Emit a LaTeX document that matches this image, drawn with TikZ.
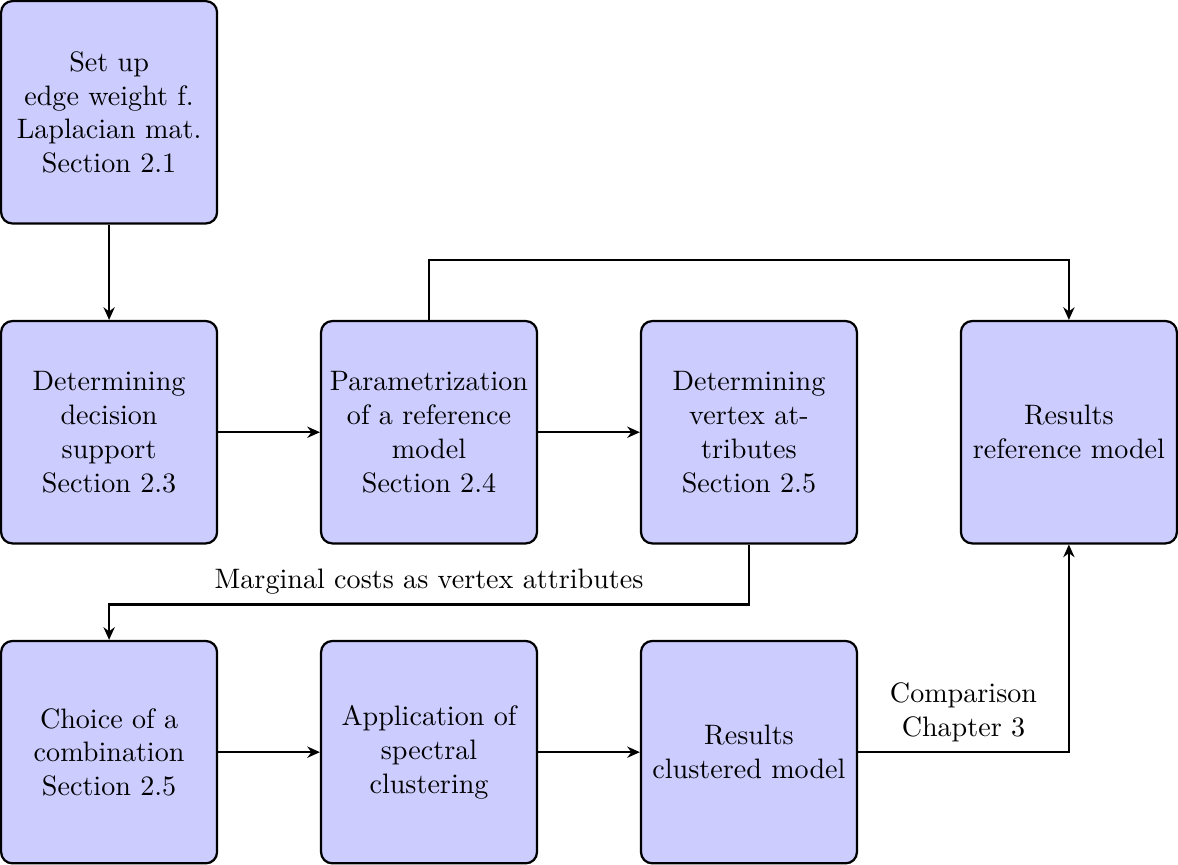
\documentclass[tikz,border=0pt]{standalone}
\usetikzlibrary{arrows.meta,positioning}
\begin{document}
\begin{tikzpicture}[
  stepbox/.style={draw, thick, rounded corners=4pt, fill=blue!20,
    minimum width=2.7cm, minimum height=2.78cm, align=center, inner sep=2pt},
  flow/.style={thick, -{Stealth[length=4.5pt,width=4pt]}}
]
% first row
\node[stepbox] (a) at (0,0) {Set up\\edge weight f.\\Laplacian mat.\\Section 2.1};
% second row
\node[stepbox] (b) at (0,-4) {Determining\\decision\\support\\Section 2.3};
\node[stepbox] (c) at (4,-4) {Parametrization\\of a reference\\model\\Section 2.4};
\node[stepbox] (d) at (8,-4) {Determining\\vertex at-\\tributes\\Section 2.5};
\node[stepbox] (e) at (12,-4) {Results\\reference model};
% third row
\node[stepbox] (f) at (0,-8) {Choice of a\\combination\\Section 2.5};
\node[stepbox] (g) at (4,-8) {Application of\\spectral\\clustering};
\node[stepbox] (h) at (8,-8) {Results\\clustered model};

% connectors
\draw[flow] (a) -- (b);
\draw[flow] (b) -- (c);
\draw[flow] (c) -- (d);
\draw[flow] (c.north) -- ++(0,0.75) -| (e.north);
\draw[flow] (d.south) -- ++(0,-0.75) coordinate (dturn)
  -| node[pos=0.25, above] {Marginal costs as vertex attributes} (f.north);
\draw[flow] (f) -- (g);
\draw[flow] (g) -- (h);
\draw[flow] (h.east) -| node[pos=0.25, above, align=center] {Comparison\\Chapter 3} (e.south);
\end{tikzpicture}
\end{document}
